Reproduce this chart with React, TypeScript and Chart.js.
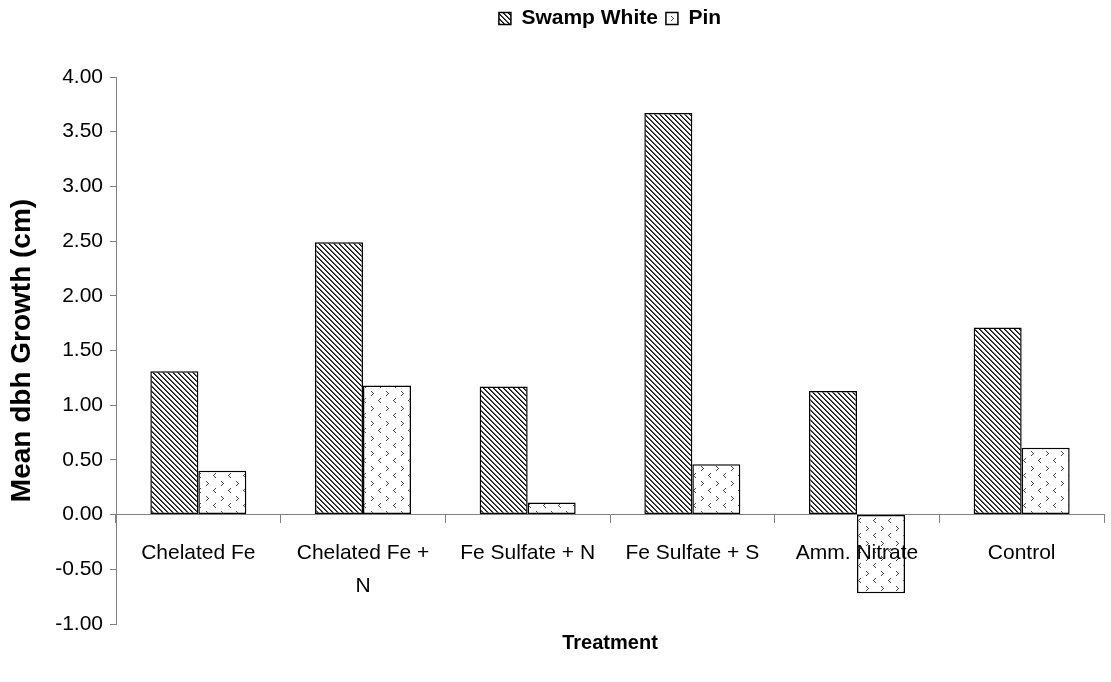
import React, { useEffect, useRef } from "react";
import { Chart, registerables } from "chart.js";

Chart.register(...registerables);

// ---- data ----
const categories: (string | string[])[] = [
  "Chelated Fe",
  ["Chelated Fe +", "N"],
  "Fe Sulfate + N",
  "Fe Sulfate + S",
  "Amm. Nitrate",
  "Control",
];
const swampWhite = [1.31, 2.49, 1.17, 3.67, 1.13, 1.71];
const pin = [0.4, 1.18, 0.11, 0.46, -0.72, 0.61];
const seriesNames = ["Swamp White", "Pin"];
const yMin = -1;
const yMax = 4;
const yStep = 0.5;
const xTitle = "Treatment";
const yTitle = "Mean dbh Growth (cm)";

const FONT = "'Liberation Sans', Arial, sans-serif";

function makeStripePattern(): CanvasPattern | string {
  const c = document.createElement("canvas");
  c.width = 5;
  c.height = 5;
  const g = c.getContext("2d");
  if (!g) return "#888";
  g.fillStyle = "#ffffff";
  g.fillRect(0, 0, 5, 5);
  for (let y = 0; y < 5; y++) {
    for (let x = 0; x < 5; x++) {
      const d = (((x - y) % 5) + 5) % 5;
      if (d === 0) {
        g.fillStyle = "#111";
        g.fillRect(x, y, 1, 1);
      } else if (d === 1) {
        g.fillStyle = "#555";
        g.fillRect(x, y, 1, 1);
      }
    }
  }
  return g.createPattern(c, "repeat") || "#888";
}

function makeChevronPattern(): CanvasPattern | string {
  const s = 15;
  const c = document.createElement("canvas");
  c.width = s;
  c.height = s;
  const g = c.getContext("2d");
  if (!g) return "#eee";
  g.fillStyle = "#ffffff";
  g.fillRect(0, 0, s, s);
  g.fillStyle = "#444";
  // ">" shape
  const gt = [[2, 2], [3, 3], [4, 4], [3, 5], [2, 6]];
  for (const [x, y] of gt) g.fillRect(x, y, 1, 1);
  // "<" shape
  const lt = [[11, 9], [10, 10], [9, 11], [10, 12], [11, 13]];
  for (const [x, y] of lt) g.fillRect(x, y, 1, 1);
  const p = g.createPattern(c, "repeat");
  if (!p) return "#eee";
  try {
    p.setTransform(new DOMMatrix().translate(9, 14));
  } catch (e) {
    /* ignore */
  }
  return p;
}

const legendSpacer = {
  id: "legendSpacer",
  beforeInit(chart: any) {
    const legend = chart.legend;
    if (!legend) return;
    const orig = legend.fit;
    legend.fit = function () {
      orig.call(this);
      this.height = 77;
    };
  },
};

export default function App() {
  const ref = useRef<HTMLCanvasElement | null>(null);

  useEffect(() => {
    if (!ref.current) return;
    const stripe = makeStripePattern();
    const chevron = makeChevronPattern();
    const chart = new Chart(ref.current, {
      type: "bar",
      data: {
        labels: categories as any,
        datasets: [
          {
            label: seriesNames[0],
            data: swampWhite,
            backgroundColor: stripe as any,
            borderColor: "#000",
            borderWidth: 1.5,
            borderSkipped: false,
            categoryPercentage: 0.583,
            barPercentage: 1,
          },
          {
            label: seriesNames[1],
            data: pin,
            backgroundColor: chevron as any,
            borderColor: "#000",
            borderWidth: 1.5,
            borderSkipped: false,
            categoryPercentage: 0.583,
            barPercentage: 1,
          },
        ],
      },
      options: {
        animation: false,
        responsive: true,
        maintainAspectRatio: false,
        layout: { padding: { top: 0, right: 7, bottom: 0, left: 0 } },
        plugins: {
          tooltip: { enabled: false },
          legend: {
            position: "top",
            fullSize: false,
            labels: {
              color: "#000",
              font: { family: FONT, size: 21, weight: "bold" },
              boxWidth: 12,
              boxHeight: 12,
              padding: 8,
            },
          },
          title: {
            display: true,
            text: xTitle,
            position: "bottom",
            fullSize: false,
            color: "#000",
            font: { family: FONT, size: 20, weight: "bold", lineHeight: 1.2 },
            padding: { top: 7, bottom: 27 },
          },
        },
        scales: {
          x: {
            position: { y: 0 } as any,
            offset: true,
            grid: {
              display: true,
              offset: true,
              drawOnChartArea: false,
              drawTicks: true,
              tickLength: 8,
              color: "#808080",
              lineWidth: 1,
            },
            border: { display: true, color: "#808080", width: 1 },
            ticks: {
              z: 1,
              color: "#000",
              font: { family: FONT, size: 21, lineHeight: 1.57 },
              maxRotation: 0,
              minRotation: 0,
              autoSkip: false,
              padding: 14,
            },
          },
          y: {
            min: yMin,
            max: yMax,
            afterFit: (scale: any) => {
              scale.width = 116;
            },
            grid: {
              display: true,
              drawOnChartArea: false,
              drawTicks: true,
              tickLength: 6,
              color: "#808080",
            },
            border: { display: true, color: "#808080", width: 1 },
            ticks: {
              stepSize: yStep,
              color: "#000",
              font: { family: FONT, size: 21 },
              padding: 7,
              callback: (v: any) => Number(v).toFixed(2),
            },
            title: {
              display: true,
              text: yTitle,
              color: "#000",
              font: { family: FONT, size: 28, weight: "bold", lineHeight: 1.2 },
              padding: { top: 5, bottom: 0 },
            },
          },
        },
      },
      plugins: [legendSpacer],
    });
    return () => chart.destroy();
  }, []);

  return (
    <div style={{ position: "fixed", left: 0, top: 0, width: 1111, height: 682, background: "#fff" }}>
      <canvas ref={ref} />
    </div>
  );
}
